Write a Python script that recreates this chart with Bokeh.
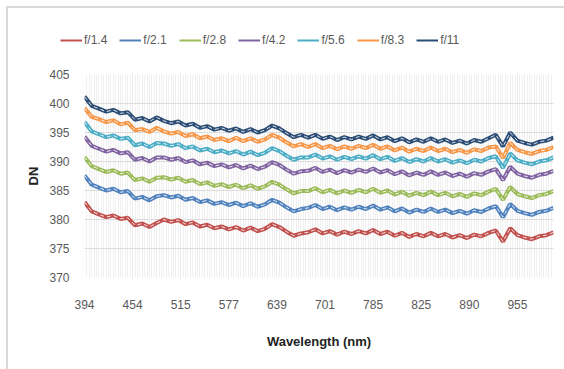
from bokeh.plotting import figure
from bokeh.models import Legend, LegendItem, FixedTicker, Range1d
from bokeh.layouts import column
from bokeh.embed import file_html
from bokeh.resources import INLINE

# category index of each sample (every third band)
band_idx = list(range(0, 196, 3))
tick_idx = [0, 20, 40, 60, 80, 100, 120, 140, 160, 180]
tick_labels = ["394", "454", "515", "577", "639", "701", "785", "825", "890", "955"]
y_ticks = [370, 375, 380, 385, 390, 395, 400, 405]

series_names = ["f/1.4", "f/2.1", "f/2.8", "f/4.2", "f/5.6", "f/8.3", "f/11"]
colors = ["#C0504D", "#4F81BD", "#9BBB59", "#8064A2", "#4BACC6", "#F79646", "#2C4D75"]

f14 = [383.0, 381.4, 380.9, 380.4, 380.7, 380.1, 380.3, 379.0, 379.3, 378.7, 379.4,
       380.0, 379.6, 379.9, 379.2, 379.5, 378.8, 379.1, 378.5, 378.8, 378.3, 378.7,
       378.1, 378.6, 378.0, 378.4, 379.2, 378.7, 377.9, 377.2, 377.6, 377.8, 378.3,
       377.6, 378.0, 377.4, 377.9, 377.5, 378.0, 377.6, 378.2, 377.5, 377.9, 377.2,
       377.7, 377.0, 377.5, 377.1, 377.7, 377.1, 377.5, 376.9, 377.3, 376.8, 377.4,
       377.1, 377.7, 378.1, 376.2, 378.5, 377.3, 376.9, 376.6, 377.1, 377.3, 377.8]
f21 = [387.6, 386.0, 385.5, 385.0, 385.3, 384.7, 384.9, 383.6, 383.9, 383.3, 384.0,
       384.2, 383.8, 384.1, 383.4, 383.7, 383.0, 383.3, 382.7, 383.0, 382.5, 382.9,
       382.3, 382.8, 382.2, 382.6, 383.4, 382.9, 382.1, 381.4, 381.8, 382.0, 382.5,
       381.8, 382.2, 381.6, 382.1, 381.7, 382.2, 381.8, 382.4, 381.7, 382.1, 381.4,
       381.9, 381.2, 381.7, 381.3, 381.9, 381.3, 381.7, 381.1, 381.5, 381.0, 381.6,
       381.3, 381.9, 382.3, 380.4, 382.7, 381.5, 381.1, 380.8, 381.3, 381.5, 382.0]
f28 = [390.8, 389.2, 388.7, 388.2, 388.5, 387.9, 388.1, 386.8, 387.1, 386.5, 387.2,
       387.3, 386.9, 387.2, 386.5, 386.8, 386.1, 386.4, 385.8, 386.1, 385.6, 386.0,
       385.4, 385.9, 385.3, 385.7, 386.5, 386.0, 385.2, 384.5, 384.9, 384.9, 385.4,
       384.7, 385.1, 384.5, 385.0, 384.6, 385.1, 384.7, 385.3, 384.6, 385.0, 384.3,
       384.8, 384.1, 384.6, 384.2, 384.8, 384.2, 384.6, 384.0, 384.4, 383.9, 384.5,
       384.2, 384.8, 385.3, 383.4, 385.6, 384.4, 384.0, 383.7, 384.2, 384.4, 384.9]
f42 = [394.3, 392.7, 392.2, 391.7, 392.0, 391.4, 391.6, 390.3, 390.6, 390.0, 390.7,
       390.7, 390.3, 390.6, 389.9, 390.2, 389.5, 389.8, 389.2, 389.5, 389.0, 389.4,
       388.8, 389.3, 388.7, 389.1, 389.9, 389.4, 388.6, 387.9, 388.3, 388.4, 388.9,
       388.2, 388.6, 388.0, 388.5, 388.1, 388.6, 388.2, 388.8, 388.1, 388.5, 387.8,
       388.3, 387.6, 388.1, 387.7, 388.3, 387.7, 388.1, 387.5, 387.9, 387.4, 388.0,
       387.7, 388.3, 388.7, 386.8, 389.1, 387.9, 387.5, 387.2, 387.7, 387.9, 388.4]
f56 = [396.8, 395.2, 394.7, 394.2, 394.5, 393.9, 394.1, 392.8, 393.1, 392.5, 393.2,
       393.1, 392.7, 393.0, 392.3, 392.6, 391.9, 392.2, 391.6, 391.9, 391.4, 391.8,
       391.2, 391.7, 391.1, 391.5, 392.3, 391.8, 391.0, 390.3, 390.7, 390.7, 391.2,
       390.5, 390.9, 390.3, 390.8, 390.4, 390.9, 390.5, 391.1, 390.4, 390.8, 390.1,
       390.6, 389.9, 390.4, 390.0, 390.6, 390.0, 390.4, 389.8, 390.2, 389.7, 390.3,
       390.0, 390.6, 390.9, 388.9, 391.4, 390.2, 389.8, 389.5, 390.0, 390.2, 390.7]
f83 = [399.2, 397.7, 397.3, 396.8, 397.1, 396.4, 396.7, 395.4, 395.6, 395.1, 395.8,
       395.2, 394.8, 395.1, 394.4, 394.7, 394.0, 394.3, 393.7, 394.0, 393.5, 394.1,
       393.5, 394.0, 393.4, 393.8, 394.6, 394.1, 393.3, 392.6, 393.0, 392.5, 393.0,
       392.3, 392.7, 392.1, 392.6, 392.2, 392.7, 392.3, 392.9, 392.2, 392.6, 391.9,
       392.4, 391.7, 392.2, 391.8, 392.4, 391.8, 392.2, 391.6, 392.0, 391.5, 392.1,
       391.8, 392.4, 392.6, 390.6, 393.2, 392.0, 391.6, 391.3, 391.8, 392.0, 392.5]
f11 = [401.2, 399.6, 399.1, 398.6, 398.9, 398.3, 398.5, 397.2, 397.5, 396.9, 397.6,
       397.0, 396.6, 396.9, 396.2, 396.5, 395.8, 396.1, 395.5, 395.8, 395.3, 395.7,
       395.1, 395.6, 395.0, 395.4, 396.2, 395.7, 394.9, 394.2, 394.6, 394.1, 394.6,
       393.9, 394.3, 393.7, 394.2, 393.8, 394.3, 393.9, 394.5, 393.8, 394.2, 393.5,
       394.0, 393.3, 393.8, 393.4, 394.0, 393.4, 393.8, 393.2, 393.6, 393.1, 393.7,
       393.4, 394.0, 394.6, 392.6, 395.0, 393.6, 393.2, 392.9, 393.4, 393.6, 394.1]

all_series = [f14, f21, f28, f42, f56, f83, f11]

FONT = "Liberation Sans"

# ---- legend strip (top of chart) ----
lg = figure(width=556, height=42, output_backend="svg", toolbar_location=None,
            x_range=Range1d(0, 1), y_range=Range1d(0, 1),
            x_axis_location=None, y_axis_location=None, min_border=0,
            background_fill_color="white", border_fill_color="white")
lg.frame_align = False
lg.outline_line_color = None
lg.xgrid.visible = False
lg.ygrid.visible = False
leg_items = []
for name, col in zip(series_names, colors):
    # a renderer that draws nothing in the strip, only its legend swatch
    r = lg.line(x=[0.0], y=[float("nan")], line_color=col, line_width=2)
    leg_items.append(LegendItem(label=name, renderers=[r]))
legend = Legend(items=leg_items, orientation="horizontal", location=(52, 2),
                glyph_width=22, glyph_height=16, label_height=16, label_standoff=2,
                spacing=12, padding=0, margin=0,
                border_line_color=None, background_fill_alpha=0,
                label_text_font=FONT, label_text_font_size="12px",
                label_text_color="#595959")
lg.add_layout(legend)

# ---- main chart ----
p = figure(width=556, height=319, output_backend="svg", toolbar_location=None,
           x_range=Range1d(0, 195), y_range=Range1d(370, 405),
           min_border_left=76, min_border_right=11, min_border_top=24, min_border_bottom=92,
           background_fill_color="white", border_fill_color="white")
p.frame_align = False
p.outline_line_color = None

for name, col, vals in zip(series_names, colors, all_series):
    p.line(band_idx, vals, line_color=col, line_width=4)
    p.line(band_idx, vals, line_color="white", line_width=1, line_dash="4 3", line_alpha=0.85)

p.xaxis.ticker = FixedTicker(ticks=tick_idx, minor_ticks=list(range(0, 196)))
p.xaxis.major_label_overrides = {t: l for t, l in zip(tick_idx, tick_labels)}
p.yaxis.ticker = FixedTicker(ticks=y_ticks)
for ax in (p.xaxis[0], p.yaxis[0]):
    ax.axis_line_color = None
    ax.major_tick_line_color = None
    ax.minor_tick_line_color = None
    ax.major_label_text_font = FONT
    ax.major_label_text_font_size = "12px"
    ax.major_label_text_color = "#595959"
    ax.axis_label_text_font = FONT
    ax.axis_label_text_font_style = "bold"
    ax.axis_label_text_font_size = "13px"
    ax.axis_label_text_color = "#222222"
p.xaxis.major_label_standoff = 16
p.yaxis.major_label_standoff = 9
p.xaxis.axis_label = "Wavelength (nm)"
p.xaxis.axis_label_standoff = 22
p.yaxis.axis_label = "DN"
p.yaxis.axis_label_standoff = 5

p.xgrid.grid_line_color = "#ededed"
p.xgrid.minor_grid_line_color = "#f0f0f0"
p.ygrid.grid_line_color = "#dcdcdc"

layout = column(lg, p, spacing=0,
                styles={"margin-left": "6px", "margin-top": "6px",
                        "border-left": "2px solid #d9d9d9",
                        "border-top": "2px solid #d9d9d9"})
open("out.html", "w").write(file_html(layout, INLINE))
